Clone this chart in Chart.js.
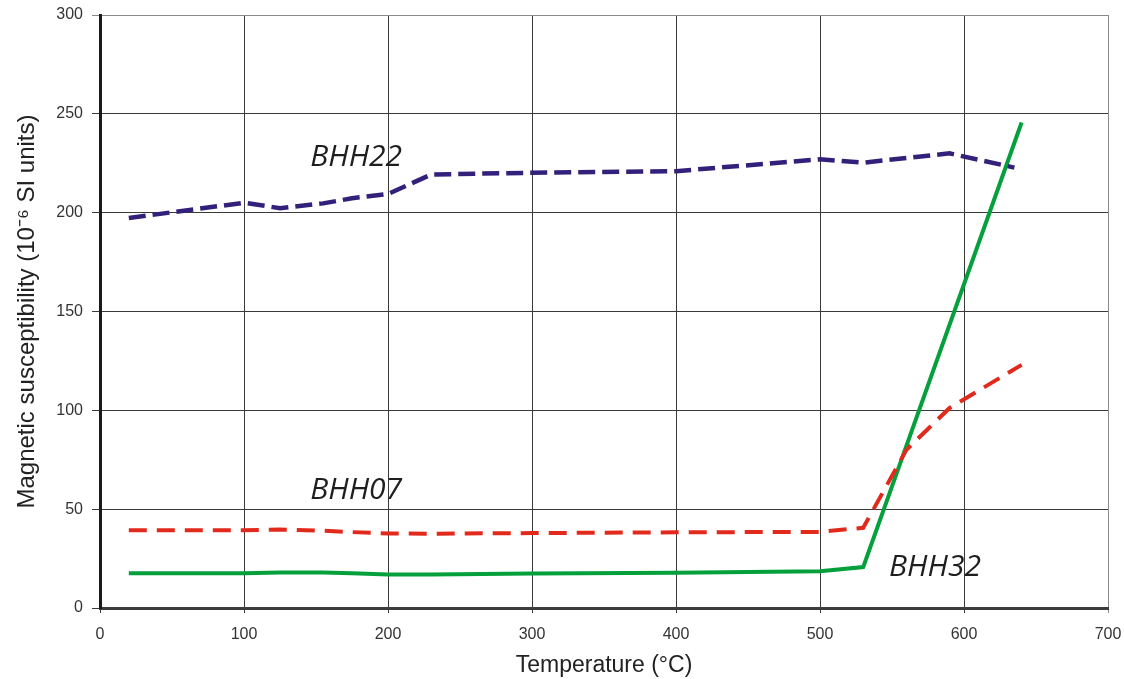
<!DOCTYPE html>
<html>
<head>
<meta charset="utf-8">
<script src="https://cdn.jsdelivr.net/npm/chart.js@4.4.1/dist/chart.umd.min.js"></script>
<style>
html,body{margin:0;padding:0;background:#fff;}
#wrap{width:1124px;height:679px;}
</style>
</head>
<body>
<div id="wrap"><canvas id="c" width="1124" height="679"></canvas></div>
<script>
// ---- data ----
const temps22 = [20, 100, 125, 155, 175, 200, 230, 300, 400, 500, 530, 590, 635];
const bhh22   = [197.3, 205, 202.3, 204.7, 207.3, 209.4, 219.3, 220.2, 221, 227, 225.3, 230, 222.8];

const temps07 = [20, 100, 125, 155, 175, 200, 230, 300, 400, 500, 530, 560, 590, 640];
const bhh07   = [39.3, 39.3, 39.7, 39.1, 38.4, 37.7, 37.6, 37.9, 38.3, 38.5, 40.6, 80, 101.2, 123];

const temps32 = [20, 100, 125, 155, 175, 200, 230, 300, 400, 500, 530, 640];
const bhh32   = [17.6, 17.6, 18, 18, 17.6, 17, 17, 17.4, 17.8, 18.6, 20.7, 245.6];

const seriesNames = ['BHH22', 'BHH07', 'BHH32'];
// label anchor positions in data units (left edge x, vertical centre y)
const labelX = [146, 146, 548];
const labelY = [228, 59.5, 20.3];

const xTicks = [0, 100, 200, 300, 400, 500, 600, 700];
const yTicks = [0, 50, 100, 150, 200, 250, 300];

function pts(xs, ys){ return xs.map((x,i)=>({x:x, y:ys[i]})); }

const labelPlugin = {
  id: 'seriesLabels',
  afterDatasetsDraw(chart){
    const ctx = chart.ctx;
    const xs = chart.scales.x, ys = chart.scales.y;
    ctx.save();
    ctx.font = 'italic 30px "Open Sans", "Noto Sans", sans-serif';
    ctx.fillStyle = '#1e1e1e';
    ctx.textAlign = 'left';
    ctx.textBaseline = 'middle';
    seriesNames.forEach((n,i)=>{
      ctx.fillText(n, xs.getPixelForValue(labelX[i]), ys.getPixelForValue(labelY[i]));
    });
    ctx.restore();
  }
};

const tickFont = {family: '"Liberation Sans", Arial, sans-serif', size: 16};

function zeroPad(s){ s.paddingLeft = 0; s.paddingRight = 0; s.paddingTop = 0; s.paddingBottom = 0; }

new Chart(document.getElementById('c'), {
  type: 'scatter',
  data: {
    datasets: [
      {label: seriesNames[0], data: pts(temps22, bhh22), showLine: true, borderColor: '#33207a',
       borderWidth: 4.5, borderDash: [17, 7], pointRadius: 0, fill: false},
      {label: seriesNames[1], data: pts(temps07, bhh07), showLine: true, borderColor: '#e12a1c',
       borderWidth: 4, borderDash: [18, 10], pointRadius: 0, fill: false},
      {label: seriesNames[2], data: pts(temps32, bhh32), showLine: true, borderColor: '#05a03c',
       borderWidth: 4, pointRadius: 0, fill: false}
    ]
  },
  options: {
    responsive: false,
    animation: false,
    devicePixelRatio: 1,
    layout: {padding: {top: 15, right: 16, left: 0, bottom: 0}},
    plugins: {legend: {display: false}, tooltip: {enabled: false}},
    scales: {
      x: {
        type: 'linear', min: 0, max: 700,
        afterBuildTicks: s => { s.ticks = xTicks.map(v => ({value: v})); },
        afterFit: s => { s.height = 71; zeroPad(s); },
        ticks: {font: tickFont, color: '#333', padding: 12, maxRotation: 0},
        grid: {color: ctx => (ctx.tick && ctx.tick.value === 700) ? '#8a8a8a' : '#3a3a3a',
               lineWidth: 1, tickLength: 5, drawTicks: true},
        border: {color: '#3c3c3c', width: 3},
        title: {display: true, text: 'Temperature (°C)', color: '#222',
                font: {family: '"Liberation Sans", Arial, sans-serif', size: 23},
                padding: {top: 0, bottom: 0}}
      },
      y: {
        type: 'linear', min: 0, max: 300,
        afterBuildTicks: s => { s.ticks = yTicks.map(v => ({value: v})); },
        afterFit: s => { s.width = 100; zeroPad(s); },
        ticks: {font: tickFont, color: '#333', padding: 9},
        grid: {color: ctx => (ctx.tick && ctx.tick.value === 300) ? '#8a8a8a' : '#3a3a3a',
               lineWidth: 1, tickLength: 8, drawTicks: true},
        border: {color: '#1a1a1a', width: 3},
        title: {display: true, text: 'Magnetic susceptibility (10\u207B\u2076 SI units)', color: '#222',
                font: {family: '"Liberation Sans", Arial, sans-serif', size: 24},
                padding: {top: 13, bottom: 0}}
      }
    }
  },
  plugins: [labelPlugin]
});
</script>
</body>
</html>
